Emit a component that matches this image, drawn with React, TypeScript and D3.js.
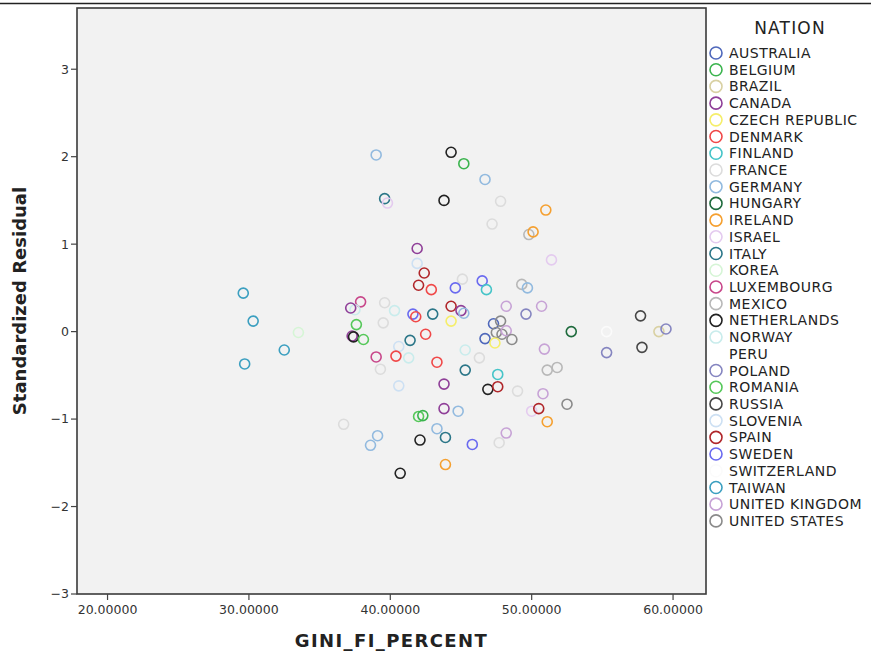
import { useEffect, useRef } from 'react'
import * as d3 from 'd3'

const nations = [
  'AUSTRALIA', 'BELGIUM', 'BRAZIL', 'CANADA', 'CZECH REPUBLIC', 'DENMARK', 'FINLAND',
  'FRANCE', 'GERMANY', 'HUNGARY', 'IRELAND', 'ISRAEL', 'ITALY', 'KOREA', 'LUXEMBOURG',
  'MEXICO', 'NETHERLANDS', 'NORWAY', 'PERU', 'POLAND', 'ROMANIA', 'RUSSIA', 'SLOVENIA',
  'SPAIN', 'SWEDEN', 'SWITZERLAND', 'TAIWAN', 'UNITED KINGDOM', 'UNITED STATES',
]

// marker colour per nation (SPSS-ish palette)
const palette = [
  '#4f68bb', '#3bb44e', '#d9d1a3', '#8f3f98', '#f5ee6a', '#f04848', '#45c4c8',
  '#dcdcdc', '#92badf', '#1f6b3d', '#f5a030', '#e4cbef', '#2b7688', '#d6f5d6', '#c8478a',
  '#b8b8b8', '#222222', '#c9ecec', 'none', '#8585c0', '#56c85a', '#474747', '#cde0f3',
  '#b0262a', '#6a6af0', '#fbfbfb', '#3b9fc0', '#c7a3d6', '#8a8a8a',
]

const pointNation = [
  'GERMANY', 'ITALY', 'ISRAEL', 'CANADA', 'SLOVENIA', 'SPAIN', 'SPAIN', 'DENMARK',
  'TAIWAN', 'TAIWAN', 'LUXEMBOURG', 'NORWAY', 'CANADA', 'FRANCE', 'NORWAY', 'SWEDEN',
  'DENMARK', 'ROMANIA', 'FRANCE', 'KOREA', 'TAIWAN', 'TAIWAN', 'CANADA', 'NETHERLANDS',
  'ROMANIA', 'ITALY', 'SLOVENIA', 'LUXEMBOURG', 'DENMARK', 'NORWAY', 'FRANCE', 'SLOVENIA',
  'ROMANIA', 'BELGIUM', 'NETHERLANDS', 'FRANCE', 'GERMANY', 'GERMANY', 'NETHERLANDS', 'CANADA',
  'GERMANY', 'GERMANY', 'ITALY', 'SWEDEN', 'UNITED KINGDOM', 'FRANCE', 'ISRAEL', 'SPAIN',
  'IRELAND', 'UNITED STATES', 'IRELAND', 'NETHERLANDS', 'BELGIUM', 'GERMANY', 'NETHERLANDS', 'FRANCE',
  'IRELAND', 'FRANCE', 'MEXICO', 'IRELAND', 'ISRAEL', 'FRANCE', 'SWEDEN', 'SWEDEN',
  'FINLAND', 'MEXICO', 'GERMANY', 'SPAIN', 'CANADA', 'GERMANY', 'ITALY', 'CZECH REPUBLIC',
  'UNITED KINGDOM', 'UNITED KINGDOM', 'POLAND', 'AUSTRALIA', 'UNITED STATES', 'UNITED STATES', 'UNITED STATES', 'UNITED KINGDOM',
  'UNITED STATES', 'AUSTRALIA', 'CZECH REPUBLIC', 'DENMARK', 'NORWAY', 'FRANCE', 'DENMARK', 'ITALY',
  'FINLAND', 'CANADA', 'NETHERLANDS', 'SPAIN', 'FRANCE', 'UNITED KINGDOM', 'UNITED KINGDOM', 'MEXICO',
  'MEXICO', 'HUNGARY', 'SWITZERLAND', 'POLAND', 'RUSSIA', 'RUSSIA', 'BRAZIL', 'POLAND',
]

const gini = [
  39.0, 39.6, 39.8, 41.9, 41.9, 42.4, 42.0, 42.9,
  29.6, 30.3, 37.9, 37.5, 37.2, 39.6, 40.3, 41.6,
  41.8, 37.6, 39.5, 33.5, 32.5, 29.7, 37.3, 37.4,
  38.1, 41.4, 40.6, 39.0, 40.4, 41.3, 39.3, 40.6,
  42.0, 42.3, 42.1, 36.7, 39.1, 38.6, 40.7, 43.8,
  44.8, 43.3, 43.9, 45.8, 48.2, 47.7, 50.0, 50.5,
  51.1, 52.5, 43.9, 44.3, 45.2, 46.7, 43.8, 47.8,
  51.0, 47.2, 49.8, 50.1, 51.4, 45.1, 44.6, 46.5,
  46.8, 49.3, 49.7, 44.3, 45.0, 45.2, 43.0, 44.3,
  48.2, 50.7, 49.6, 47.3, 47.8, 47.5, 47.9, 48.2,
  48.6, 46.7, 47.4, 42.5, 45.3, 46.3, 43.3, 45.3,
  47.6, 43.8, 46.9, 47.6, 49.0, 50.8, 50.9, 51.1,
  51.8, 52.8, 55.3, 55.3, 57.7, 57.8, 59.0, 59.5,
]

const residual = [
  2.02, 1.52, 1.47, 0.95, 0.78, 0.67, 0.53, 0.48,
  0.44, 0.12, 0.34, 0.25, 0.27, 0.33, 0.24, 0.20,
  0.17, 0.08, 0.10, -0.01, -0.21, -0.37, -0.05, -0.06,
  -0.09, -0.10, -0.17, -0.29, -0.28, -0.30, -0.43, -0.62,
  -0.97, -0.96, -1.24, -1.06, -1.19, -1.30, -1.62, -0.88,
  -0.91, -1.11, -1.21, -1.29, -1.16, -1.27, -0.91, -0.88,
  -1.03, -0.83, -1.52, 2.05, 1.92, 1.74, 1.50, 1.49,
  1.39, 1.23, 1.11, 1.14, 0.82, 0.60, 0.50, 0.58,
  0.48, 0.54, 0.50, 0.29, 0.24, 0.21, 0.20, 0.12,
  0.29, 0.29, 0.20, 0.09, 0.12, -0.01, -0.03, 0.01,
  -0.09, -0.08, -0.13, -0.03, -0.21, -0.30, -0.35, -0.44,
  -0.49, -0.60, -0.66, -0.63, -0.68, -0.71, -0.20, -0.44,
  -0.41, 0.00, 0.00, -0.24, 0.18, -0.18, 0.00, 0.03,
]

const xTicks = [20, 30, 40, 50, 60]
const yTicks = [-3, -2, -1, 0, 1, 2, 3]

const W = 871
const H = 654
const FONT = '"DejaVu Sans", sans-serif'

export default function App() {
  const svgRef = useRef<SVGSVGElement>(null)

  useEffect(() => {
    if (!svgRef.current) return
    const svg = d3.select(svgRef.current)
    svg.selectAll('*').remove()

    const left = 77, right = 706, top = 8, bottom = 594
    const x = d3.scaleLinear().domain([17.84, 62.33]).range([left, right])
    const y = d3.scaleLinear().domain([-3, 3.7]).range([bottom, top])
    const color = d3.scaleOrdinal<string, string>().domain(nations).range(palette)

    svg.append('rect').attr('width', W).attr('height', H).attr('fill', '#fff')
    // top rule of the output viewer
    svg.append('line').attr('x1', 0).attr('x2', W).attr('y1', 3.5).attr('y2', 3.5)
      .attr('stroke', '#222').attr('stroke-width', 1.5)

    // plot frame
    svg.append('rect')
      .attr('x', left).attr('y', top)
      .attr('width', right - left).attr('height', bottom - top)
      .attr('fill', '#f2f2f2')
      .attr('stroke', '#3a3a3a').attr('stroke-width', 1.6)

    // y axis
    const ya = svg.append('g')
    yTicks.forEach(t => {
      ya.append('line').attr('x1', left - 6).attr('x2', left).attr('y1', y(t)).attr('y2', y(t))
        .attr('stroke', '#444').attr('stroke-width', 1.2)
      ya.append('text').attr('x', left - 8).attr('y', y(t)).attr('dy', '0.35em')
        .attr('text-anchor', 'end').attr('font-family', FONT).attr('font-size', 12.5)
        .attr('fill', '#333').text(d3.format('')(t).replace('-', '\u2212'))
    })

    // x axis
    const xa = svg.append('g')
    xTicks.forEach(t => {
      xa.append('line').attr('x1', x(t)).attr('x2', x(t)).attr('y1', bottom).attr('y2', bottom + 6)
        .attr('stroke', '#444').attr('stroke-width', 1.2)
      xa.append('text').attr('x', x(t)).attr('y', bottom + 20)
        .attr('text-anchor', 'middle').attr('font-family', FONT).attr('font-size', 12.5)
        .attr('fill', '#333').text(d3.format('.5f')(t))
    })

    // axis titles
    svg.append('text')
      .attr('transform', `translate(26,${(top + bottom) / 2}) rotate(-90)`)
      .attr('text-anchor', 'middle').attr('font-family', FONT).attr('font-weight', 'bold')
      .attr('font-size', 18).attr('fill', '#222').text('Standardized Residual')
    svg.append('text')
      .attr('x', (left + right) / 2).attr('y', 647)
      .attr('text-anchor', 'middle').attr('font-family', FONT).attr('font-weight', 'bold')
      .attr('font-size', 18).attr('letter-spacing', 1.4).attr('fill', '#222').text('GINI_FI_PERCENT')

    // points
    svg.append('g').selectAll('circle')
      .data(gini.map((g, i) => ({ g, r: residual[i], n: pointNation[i] })))
      .join('circle')
      .attr('cx', d => x(d.g)).attr('cy', d => y(d.r)).attr('r', 5)
      .attr('fill', 'none').attr('stroke', d => color(d.n)).attr('stroke-width', 1.6)

    // legend
    const lg = svg.append('g')
    lg.append('text').attr('x', 790).attr('y', 34).attr('text-anchor', 'middle')
      .attr('font-family', FONT).attr('font-size', 17).attr('letter-spacing', 1.2)
      .attr('fill', '#222').text('NATION')
    nations.forEach((n, i) => {
      const cy = 53 + i * 16.71
      lg.append('circle').attr('cx', 716).attr('cy', cy).attr('r', 6)
        .attr('fill', 'none').attr('stroke', color(n)).attr('stroke-width', 1.6)
      lg.append('text').attr('x', 729).attr('y', cy).attr('dy', '0.36em')
        .attr('font-family', FONT).attr('font-size', 14).attr('letter-spacing', 0.5)
        .attr('fill', '#222').text(n)
    })
  }, [])

  return <svg ref={svgRef} width={W} height={H} style={{ position: 'absolute', left: 0, top: 0 }} />
}
